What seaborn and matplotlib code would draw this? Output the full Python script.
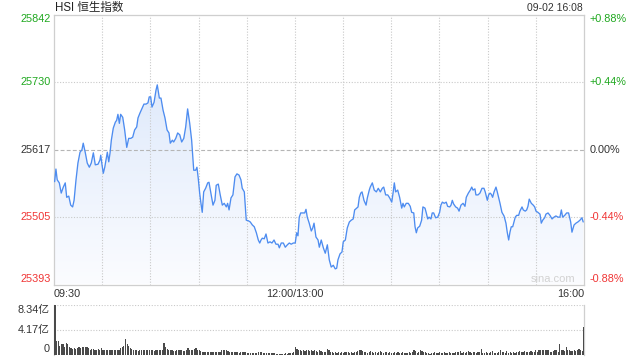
import numpy as np
import matplotlib
matplotlib.use("Agg")
import matplotlib.pyplot as plt
from matplotlib.colors import LinearSegmentedColormap
import seaborn as sns

# ---------------- data ----------------
title = "HSI 恒生指数"
stamp = "09-02 16:08"
time_labels = ["09:30", "12:00/13:00", "16:00"]
time_label_minutes = [0, 150, 330]

price_ticks = [25393, 25505, 25617, 25730, 25842]
price_tick_labels = ["25393", "25505", "25617", "25730", "25842"]
pct_tick_labels = ["-0.88%", "-0.44%", "0.00%", "+0.44%", "+0.88%"]
prev_close = 25617

vol_ticks = [0, 4.17, 8.34]
vol_tick_labels = ["0", "4.17亿", "8.34亿"]

# minutes since 09:30 (trading minutes, lunch removed) and index level
minutes = [
    0.4, 1.2, 2.0, 3.3, 4.5, 5.8, 7.0, 7.9, 9.2, 10.4,
    11.6, 12.5, 13.7, 14.9, 16.2, 17.4, 18.2, 19.5, 20.7, 22.0,
    23.2, 24.5, 25.7, 27.4, 28.6, 29.1, 29.9, 30.7, 31.6, 32.4,
    33.2, 34.1, 34.9, 35.7, 36.9, 38.2, 39.0, 39.8, 40.7, 41.5,
    42.8, 44.0, 45.3, 46.5, 47.8, 49.0, 50.2, 51.5, 52.3, 53.5,
    54.8, 56.0, 57.3, 58.5, 59.3, 60.2, 61.0, 62.3, 63.5, 64.3,
    65.6,
    66.6, 67.9, 69.1, 70.4, 71.6, 72.4, 73.7, 74.5, 75.8, 77.0,
    78.3, 79.5, 80.8, 82.0, 83.2, 84.5, 85.7, 87.0, 88.2, 89.0,
    89.8, 90.7, 91.5, 92.3, 93.2, 94.4, 95.7, 96.5, 97.7, 99.0,
    100.2, 101.0, 102.3, 103.5, 104.8, 106.0, 107.3, 108.1, 109.0, 110.2,
    111.4, 112.7, 113.9, 115.2, 116.4, 117.2, 118.5, 119.7, 121.0, 122.2,
    123.5, 124.7, 126.0, 127.2, 128.1, 128.9, 129.7, 130.9,
    132.0, 133.2, 134.5, 135.7, 137.0, 138.2, 139.5, 140.3, 141.5, 142.8,
    144.0, 145.3, 146.5, 147.7, 149.0, 150.2, 151.1, 151.9, 152.7, 153.6,
    154.8, 156.1, 156.9, 157.7, 158.9, 160.2, 161.1, 161.9, 163.1, 164.4,
    165.2, 166.4, 167.7, 168.9, 170.2, 171.4, 172.6, 173.9, 175.1, 176.0,
    176.8, 178.1, 179.3, 180.1, 181.4, 182.6, 183.9, 185.1, 186.3, 187.2,
    188.4, 189.3, 190.1, 191.0, 191.8, 193.0, 194.3, 195.1, 196.3,
    196.9, 198.2, 199.4, 200.7, 201.9, 203.2, 204.4, 205.3, 206.5, 207.8,
    209.0, 210.3, 211.1, 211.9, 212.7, 214.0, 215.2, 216.5, 217.3, 218.1,
    219.3, 220.6, 221.8, 222.7, 224.0, 224.8, 225.6, 226.4, 227.7, 228.9,
    229.7, 231.0, 231.8, 232.7, 233.5, 234.7, 235.5, 236.4, 237.6, 238.9,
    240.1, 240.9, 241.8, 243.0, 244.2, 245.1, 246.4, 247.2, 248.0, 248.8,
    250.1, 251.3, 252.2, 253.4, 254.7, 255.9, 256.7, 258.0, 259.2, 260.1,
    260.9, 262.1,
    262.7, 264.0, 265.2, 266.5, 267.7, 268.5, 269.8, 270.6, 271.5, 272.3,
    273.1, 274.0, 275.2, 276.0, 276.9, 277.7, 278.9, 280.2, 281.4, 282.2,
    283.1, 283.9, 284.7, 285.6, 286.4, 287.2, 288.1, 289.3, 290.1, 291.4,
    292.2, 293.4, 294.3, 295.1, 295.9, 297.2, 298.4, 299.3, 300.1, 301.3,
    302.6, 303.4, 304.3, 305.5, 306.3, 307.6, 308.8, 310.1, 311.3, 312.5,
    313.8, 315.0, 315.9, 316.7, 318.0, 319.2, 320.4, 321.7, 322.5, 323.8,
    325.0, 326.2, 327.5, 328.7, 329.5,
]
price = [
    25564, 25585, 25567, 25562, 25545, 25555, 25562, 25538, 25540, 25525,
    25522, 25533, 25567, 25595, 25613, 25617, 25628, 25612, 25595, 25588,
    25595, 25612, 25592, 25593, 25600, 25608, 25592, 25578, 25588, 25600,
    25613, 25597, 25612, 25633, 25653, 25663, 25666, 25676, 25661, 25676,
    25671, 25650, 25621, 25636, 25636, 25638, 25650, 25655, 25670, 25678,
    25686, 25693, 25693, 25695, 25705, 25705, 25688, 25696, 25716, 25725,
    25703,
    25703, 25683, 25670, 25650, 25645, 25628, 25633, 25630, 25636, 25645,
    25642, 25630, 25636, 25655, 25685, 25661, 25633, 25583, 25583, 25588,
    25570, 25545, 25528, 25513, 25547, 25553, 25562, 25563, 25545, 25525,
    25533, 25558, 25560, 25542, 25525, 25528, 25522, 25528, 25517, 25537,
    25542, 25572, 25577, 25575, 25567, 25553, 25547, 25500, 25499, 25497,
    25492, 25489, 25479, 25467, 25462, 25467, 25470, 25469,
    25477, 25462, 25464, 25462, 25467, 25460, 25460, 25454, 25462, 25462,
    25455, 25459, 25462, 25460, 25462, 25462, 25479, 25474, 25505, 25512,
    25512, 25512, 25518, 25505, 25495, 25482, 25487, 25495, 25472, 25467,
    25455, 25467, 25454, 25445, 25459, 25434, 25422, 25425, 25419, 25420,
    25434, 25444, 25447, 25464, 25467, 25487, 25497, 25500, 25502, 25517,
    25520, 25522, 25538, 25545, 25547, 25533, 25525, 25537, 25550,
    25555, 25562, 25550, 25547, 25553, 25547, 25553, 25555, 25542, 25542,
    25537, 25530, 25545, 25562, 25547, 25550, 25538, 25520, 25528, 25522,
    25528, 25528, 25523, 25513, 25512, 25489, 25479, 25487, 25490, 25500,
    25522, 25520, 25512, 25502, 25505, 25502, 25512, 25512, 25504, 25505,
    25513, 25525, 25530, 25528, 25530, 25523, 25522, 25525, 25533, 25527,
    25522, 25520, 25515, 25525, 25528, 25523, 25538, 25545, 25550, 25555,
    25550, 25552,
    25542, 25542, 25545, 25553, 25553, 25547, 25533, 25542, 25545, 25543,
    25538, 25547, 25555, 25547, 25537, 25528, 25513, 25507, 25495, 25480,
    25467, 25480, 25489, 25489, 25497, 25505, 25508, 25508, 25515, 25522,
    25517, 25515, 25517, 25523, 25535, 25528, 25525, 25522, 25515, 25513,
    25510, 25495, 25500, 25504, 25510, 25512, 25508, 25502, 25505, 25507,
    25505, 25505, 25517, 25505, 25508, 25512, 25512, 25497, 25480, 25492,
    25495, 25497, 25500, 25504, 25497,
]

# per-minute turnover, in 亿 (morning session incl. opening auction)
volume_am = [
    8.34,
    2.33, 2.33, 1.50, 1.67, 1.78, 1.33, 1.89, 1.67, 1.22, 1.11,
    0.95, 1.06, 0.95, 1.11, 1.22, 1.11, 1.33, 1.22, 1.17, 1.17,
    1.11, 0.78, 0.95, 0.95, 0.67, 0.78, 0.89, 0.83, 1.11, 0.67,
    0.67, 0.78, 0.83, 0.78, 0.67, 0.78, 0.67, 0.67, 0.78, 0.67,
    1.11, 1.33, 1.50, 2.61, 1.67, 1.50, 1.11, 0.95, 0.67, 0.67,
    0.67, 0.56, 0.67, 0.67, 0.67, 0.78, 0.78, 0.67, 0.67, 0.67,
    0.67, 0.56, 0.78, 0.67, 0.78, 0.78, 0.78, 1.95, 1.22, 0.95,
    0.67, 0.67, 0.67, 0.56, 0.56, 0.67, 0.78, 0.78, 0.67, 0.56,
    0.56, 0.67, 1.06, 0.78, 0.67, 0.78, 0.95, 1.11, 0.78, 0.67,
    0.56, 0.39, 0.39, 0.50, 0.39, 0.39, 0.50, 0.50, 0.39, 0.50, 0.45, 0.39,
    0.39, 0.67, 0.78, 0.78, 0.67, 0.56, 0.50, 0.39, 0.39, 0.39,
    0.39, 0.39, 0.22, 0.39, 0.39, 0.39, 0.39, 0.28, 0.28, 0.22, 0.28, 0.22,
    0.22, 0.28, 0.39, 0.39, 0.39, 0.28, 0.22, 0.28, 0.22, 0.28,
    0.22, 0.28, 0.22, 0.11, 0.11, 0.11, 0.11, 0.11, 0.11, 0.22, 0.11, 0.17,
    0.22, 0.28, 0.39,
]
# afternoon session incl. closing auction
volume_pm = [
    1.22, 0.95, 0.78, 0.67, 0.56, 0.67, 0.56, 0.67, 0.67, 0.56,
    0.67, 0.56, 0.78, 0.56, 0.39,
    0.78, 0.56, 0.39, 0.39, 0.39, 0.95, 0.78, 0.39, 0.39, 0.28,
    0.39, 0.28, 0.39, 0.28, 0.39, 0.28, 0.39, 0.39, 0.39, 0.28,
    0.39, 0.28, 0.39, 0.39, 0.56, 0.67, 0.78, 0.56, 0.39, 0.39, 0.33,
    0.39, 0.56, 0.39, 0.28, 0.39, 0.28, 0.39, 0.56, 0.39, 0.28,
    0.39, 0.39, 0.28, 0.39, 0.22, 0.28, 0.39, 0.28, 0.39, 0.22,
    0.28, 0.39, 0.28, 0.22, 0.28, 0.39, 0.28, 0.39, 0.78, 0.56, 0.28,
    0.39, 0.67, 0.56, 0.39, 0.39, 0.22, 0.22, 0.11, 0.22, 0.22,
    0.39, 0.22, 0.28, 0.39, 0.22, 0.28, 0.39, 0.22, 0.28, 0.39, 0.28,
    0.22, 0.28, 0.39, 0.39, 0.39, 0.56, 0.28, 0.39, 0.28, 0.39,
    0.56, 0.39, 0.28, 0.39, 0.39, 0.28, 0.39, 0.39, 0.95, 0.28, 0.33,
    0.39, 0.28, 0.22, 0.39, 0.56, 0.28, 0.28, 0.22, 0.39, 0.67,
    0.39, 0.39, 0.28, 0.56, 0.28, 0.39, 0.28, 0.39, 0.22, 0.39, 0.39,
    0.56, 0.39, 0.39, 0.56, 0.39, 0.39, 0.39, 0.56, 0.39, 0.39,
    0.78, 0.39, 0.67, 0.78, 0.67, 0.78, 0.67, 0.67, 0.78, 0.39, 0.50,
    0.56, 0.67, 0.78, 0.39, 1.67, 0.67, 0.78, 0.56, 1.33, 0.67,
    0.78, 0.56, 0.56, 0.67, 0.56, 0.67, 0.95, 0.78, 0.56,
    4.67,
]
volume = volume_am + volume_pm
vol_minutes = list(range(len(volume)))

# ---------------- style ----------------
LINE = "#4d8cf0"
GREEN = "#1fa81f"
RED = "#f03434"
DARK = "#333333"
GRID = "#c9c9c9"
SPINE = "#cfcfcf"

sns.set_style("white")
plt.rcParams["font.family"] = ["Liberation Sans", "Noto Sans CJK SC", "DejaVu Sans"]

W, H = 640, 360
fig = plt.figure(figsize=(W / 100, H / 100), dpi=100)
ax = fig.add_axes([54 / W, 1 - 284.5 / H, 530 / W, 270 / H])
axv = fig.add_axes([54 / W, 1 - 354.5 / H, 530 / W, 50 / H])

# ---------------- price panel ----------------
sns.lineplot(x=minutes, y=price, ax=ax, color=LINE, linewidth=0.95,
             estimator=None, errorbar=None, sort=False, zorder=3)

ymin, ymax = price_ticks[0], price_ticks[-1]
poly = ax.fill_between(minutes, price, ymin, color="none", linewidth=0)
cmap = LinearSegmentedColormap.from_list("fillgrad", ["#fbfcff", "#d6e4fa"])
grad = np.linspace(0, 1, 256).reshape(-1, 1)
im = ax.imshow(grad, extent=[0, 330, ymin, ymax], origin="lower",
               aspect="auto", cmap=cmap, zorder=1)
im.set_clip_path(poly.get_paths()[0], transform=ax.transData)

ax.set_xlim(0, 330)
ax.set_ylim(ymin, ymax)
ax.set_xticks(range(30, 330, 30))
ax.set_yticks([])
ax.tick_params(length=0, labelbottom=False, labelleft=False)
ax.set_xlabel("")
ax.set_ylabel("")
ax.grid(axis="x", color=GRID, linestyle=(0, (1, 1.5)), linewidth=0.8)
ax.set_axisbelow("line")
for v in price_ticks[1:-1]:
    if v == prev_close:
        ax.axhline(v, color="#b5b5b5", linestyle=(0, (3.5, 2)), linewidth=0.8, zorder=1.5)
    else:
        ax.axhline(v, color=GRID, linestyle=(0, (1, 1.5)), linewidth=0.8, zorder=1.5)
for s in ax.spines.values():
    s.set_color(SPINE)
    s.set_linewidth(0.9)
    s.set_visible(True)

ytr = ax.get_yaxis_transform()
n = len(price_ticks)
for i, (v, lab, pl) in enumerate(zip(price_ticks, price_tick_labels, pct_tick_labels)):
    col = DARK if v == prev_close else (GREEN if v > prev_close else RED)
    va = "bottom" if i == 0 else ("top" if i == n - 1 else "center")
    ax.text(-0.006, v, lab, transform=ytr, ha="right", va=va, fontsize=7.8, color=col)
    ax.text(1.011, v, pl, transform=ytr, ha="left", va=va, fontsize=7.8, color=col)

# time labels
xtr = ax.get_xaxis_transform()
for m, lab in zip(time_label_minutes, time_labels):
    ha = "left" if m == 0 else ("right" if m == 330 else "center")
    ax.text(m, -0.018, lab, transform=xtr, ha=ha, va="top", fontsize=7.8, color=DARK)

fig.text(55 / W, 1 - 8 / H, title, ha="left", va="center", fontsize=8.3, color="#222222")
fig.text(583 / W, 1 - 8 / H, stamp, ha="right", va="center", fontsize=7.5, color=DARK)
fig.text(553 / W, 1 - 279 / H, "sina.com", ha="center", va="center", fontsize=8,
         color="#d2d2d2")

# ---------------- volume panel ----------------
sns.barplot(x=vol_minutes, y=volume, ax=axv, native_scale=True, color="#4a4a4a",
            saturation=1, width=0.72, errorbar=None, linewidth=0, zorder=3)
axv.set_xlim(-0.6, 330.1)
axv.set_ylim(0, vol_ticks[-1])
axv.set_xticks([])
axv.set_yticks([])
axv.set_xlabel("")
axv.set_ylabel("")
for v in vol_ticks[1:]:
    axv.axhline(v, color=GRID, linestyle=(0, (1, 1.5)), linewidth=0.8, zorder=0.5)
for k, s in axv.spines.items():
    s.set_color(SPINE)
    s.set_linewidth(0.9)
    s.set_visible(k in ("left", "right"))
vtr = axv.get_yaxis_transform()
for i, (v, lab) in enumerate(zip(vol_ticks, vol_tick_labels)):
    va = "bottom" if i == 0 else ("top" if i == len(vol_ticks) - 1 else "center")
    axv.text(-0.008, v, lab, transform=vtr, ha="right", va=va, fontsize=7.8, color=DARK)

fig.savefig("out.png", dpi=100)
